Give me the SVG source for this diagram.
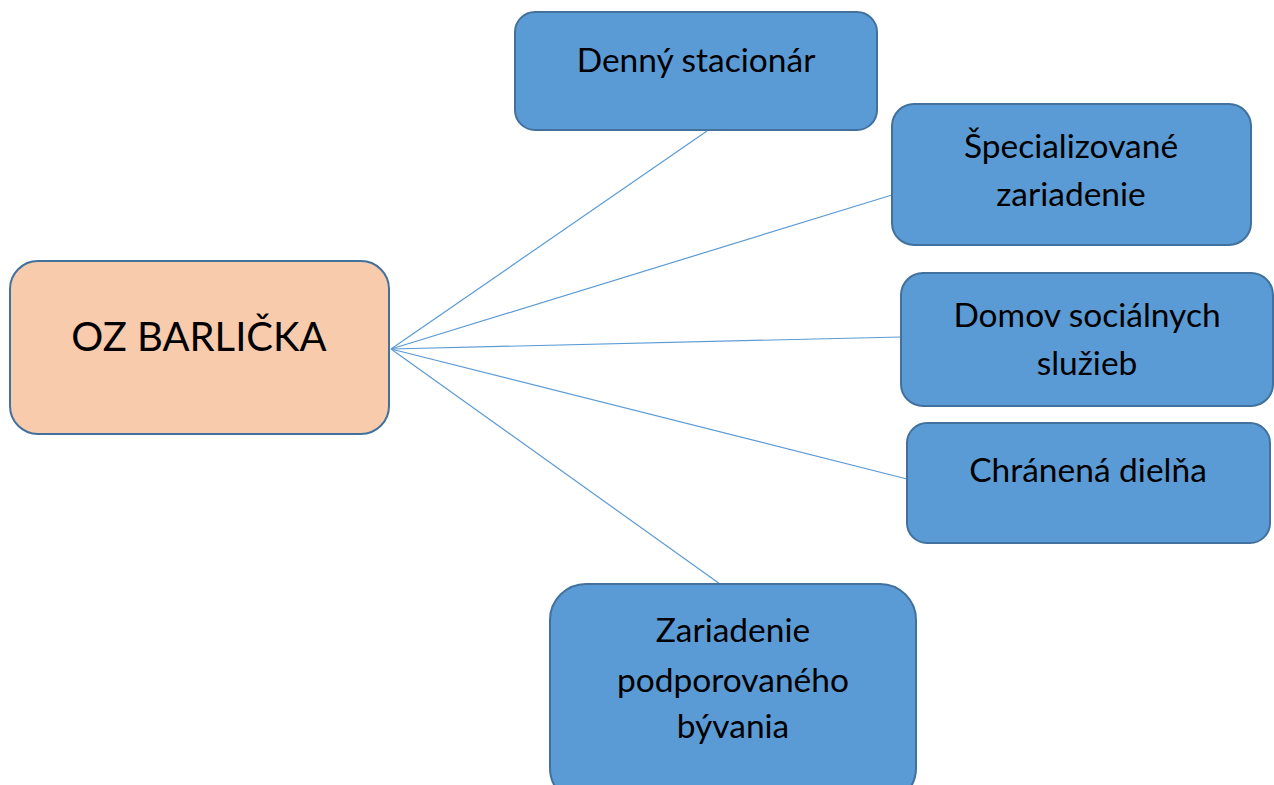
<svg xmlns="http://www.w3.org/2000/svg" width="1274" height="785" viewBox="0 0 1274 785">
<style>
.box{fill:#5B9BD5;stroke:#41719C;stroke-width:2}
.root{fill:#F8CBAD;stroke:#41719C;stroke-width:2}
.t{font-family:Lato,"Open Sans","Liberation Sans",sans-serif;font-size:33.5px;fill:#000;text-anchor:middle}
.big{font-size:40px}
.edge{stroke:#5B9BD5;stroke-width:1.2;fill:none}
</style>
<rect width="1274" height="785" fill="#fff"/>
<g id="connectors">
<line class="edge" x1="391" y1="349" x2="707" y2="131"/>
<line class="edge" x1="391" y1="349" x2="892" y2="195"/>
<line class="edge" x1="391" y1="349" x2="901" y2="337"/>
<line class="edge" x1="391" y1="349" x2="907" y2="479"/>
<line class="edge" x1="391" y1="349" x2="720" y2="584"/>
</g>
<g id="root">
<rect class="root" x="10" y="261" width="379" height="173" rx="28"/>
<text class="t big" x="199" y="351">OZ BARLIČKA</text>
</g>
<g id="denny">
<rect class="box" x="515" y="12" width="362" height="118" rx="20"/>
<text class="t" x="696" y="72">Denný stacionár</text>
</g>
<g id="specializovane">
<rect class="box" x="892" y="104" width="359" height="141" rx="22"/>
<text class="t" x="1071" y="158">Špecializované</text>
<text class="t" x="1071" y="206">zariadenie</text>
</g>
<g id="domov">
<rect class="box" x="901" y="273" width="372" height="133" rx="22"/>
<text class="t" x="1087" y="327">Domov sociálnych</text>
<text class="t" x="1087" y="375">služieb</text>
</g>
<g id="chranena">
<rect class="box" x="907" y="423" width="363" height="120" rx="20"/>
<text class="t" x="1088" y="482">Chránená dielňa</text>
</g>
<g id="zariadenie">
<rect class="box" x="550" y="584" width="366" height="220" rx="36"/>
<text class="t" x="733" y="642">Zariadenie</text>
<text class="t" x="733" y="692">podporovaného</text>
<text class="t" x="733" y="738">bývania</text>
</g>
</svg>
